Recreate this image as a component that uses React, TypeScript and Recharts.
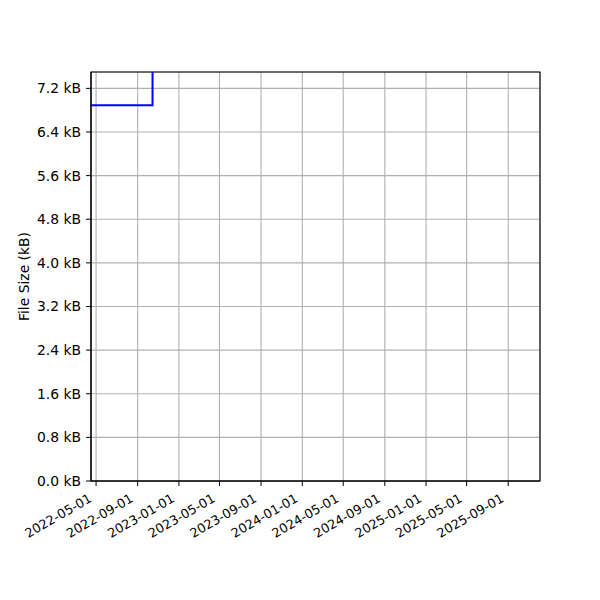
import {CartesianGrid, Line, LineChart, ReferenceArea, XAxis, YAxis} from "recharts";

// when the file size changed, and the size from then on (kB)
const changeDates = ["2022-04-01", "2022-10-15", "2025-12-31"];
const fileSizesKB = [6.89, 12.4, 12.4];

// axis ticks
const xTickDates = [
    "2022-05-01", "2022-09-01", "2023-01-01", "2023-05-01", "2023-09-01", "2024-01-01",
    "2024-05-01", "2024-09-01", "2025-01-01", "2025-05-01", "2025-09-01",
];
const yTicksKB = [0, 0.8, 1.6, 2.4, 3.2, 4.0, 4.8, 5.6, 6.4, 7.2];

const xStart = "2022-04-16";
const xEnd = "2025-12-04";
const yMaxKB = 7.5;

const toTime = (d: string) => new Date(d + "T00:00:00Z").getTime();
const fmtDate = (t: number) => new Date(t).toISOString().slice(0, 10);

const data = changeDates.map((d, i) => ({t: toTime(d), size: fileSizesKB[i]}));
const xTicks = xTickDates.map(toTime);

const FONT = "'DejaVu Sans', sans-serif";

interface TickProps {
    x?: number;
    y?: number;
    payload?: { value: number };
}

const DateTick = ({x, y, payload}: TickProps) => {
    if (x === undefined || y === undefined || !payload) return null;
    return (
        <g transform={`translate(${x - 3.5},${y + 10}) rotate(-30)`}>
            <text textAnchor="end" fontSize={12.8} fontFamily={FONT} fill="#000">
                {fmtDate(payload.value)}
            </text>
        </g>
    );
};

interface LabelViewBox {
    viewBox?: { x: number; y: number; width: number; height: number };
}

const SizeLabel = ({viewBox}: LabelViewBox) => {
    if (!viewBox) return null;
    const cy = viewBox.y + viewBox.height / 2;
    return (
        <text x={29} y={cy} transform={`rotate(-90, 29, ${cy})`} textAnchor="middle"
              fontSize={13.9} fontFamily={FONT} fill="#000">
            File Size (kB)
        </text>
    );
};

export default function App() {
    return (
        <div style={{position: "absolute", left: 0, top: 0, width: 600, height: 600, background: "#fff", fontFamily: FONT}}>
            <LineChart width={600} height={600} data={data}
                       margin={{top: 72, right: 60, left: 0, bottom: 59}}>
                <CartesianGrid stroke="#b0b0b0" strokeWidth={1.1}/>
                <XAxis dataKey="t" type="number" scale="time"
                       domain={[toTime(xStart), toTime(xEnd)]} allowDataOverflow
                       ticks={xTicks} height={60} interval={0}
                       tick={<DateTick/>} tickSize={5} tickMargin={5}
                       axisLine={{stroke: "#000"}} tickLine={{stroke: "#000"}}/>
                <YAxis type="number" domain={[0, yMaxKB]} allowDataOverflow
                       ticks={yTicksKB} width={91} interval={0}
                       tickFormatter={(v: number) => `${v.toFixed(1)} kB`}
                       tick={{fontSize: 13.9, fill: "#000", fontFamily: FONT}}
                       tickSize={5} tickMargin={5}
                       axisLine={{stroke: "#000"}} tickLine={{stroke: "#000"}}
                       label={<SizeLabel/>}/>
                <ReferenceArea x1={toTime(xStart)} x2={toTime(xEnd)} y1={0} y2={yMaxKB}
                               fill="none" stroke="#000" strokeWidth={1.1} fillOpacity={0}/>
                <Line dataKey="size" type="stepAfter" stroke="#0000ff" strokeWidth={2}
                      dot={false} isAnimationActive={false}/>
            </LineChart>
        </div>
    );
}
